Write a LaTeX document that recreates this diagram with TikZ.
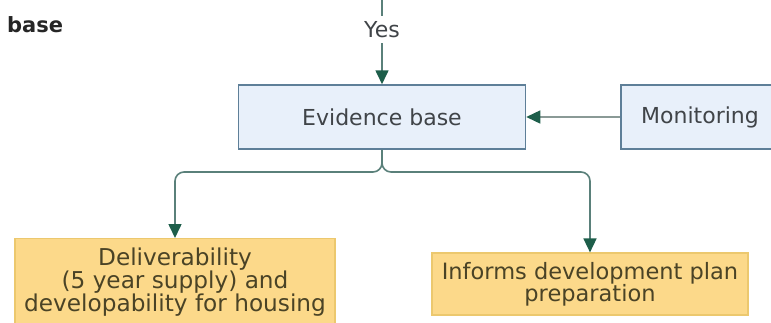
\documentclass[tikz,border=0pt]{standalone}
\usepackage{fontspec}
\setmainfont{DejaVu Sans}
\usetikzlibrary{arrows.meta}
\definecolor{bluefill}{HTML}{E8F0FA}
\definecolor{blueedge}{HTML}{5E7F98}
\definecolor{yelfill}{HTML}{FCD98A}
\definecolor{yeledge}{HTML}{ECC86E}
\definecolor{txtgray}{HTML}{404448}
\definecolor{txtolive}{HTML}{4A4326}
\definecolor{arrowgreen}{HTML}{1D5E4A}
\definecolor{linegreen}{HTML}{5A807A}
\definecolor{linegray}{HTML}{8A9A96}
\tikzset{
  bluebox/.style={draw=blueedge, fill=bluefill, line width=1.5pt, text=txtgray,
    font=\fontsize{22}{22}\selectfont, inner sep=0pt},
  yelbox/.style={draw=yeledge, fill=yelfill, line width=1.2pt, text=txtolive,
    font=\fontsize{22.5}{21.8}\selectfont, align=center, inner sep=0pt},
  conn/.style={draw=linegreen, line width=1.6pt,
    -{Triangle[length=14pt,width=13pt,color=arrowgreen]}},
  monconn/.style={draw=linegray, line width=1.4pt,
    -{Triangle[length=14pt,width=13pt,color=arrowgreen]}},
  lbl/.style={fill=white, text=txtgray, font=\fontsize{22}{22}\selectfont,
    inner xsep=2pt, inner ysep=5pt},
  heading/.style={text=black!85, font=\bfseries\fontsize{21}{21}\selectfont,
    anchor=west, inner sep=0pt}
}
\begin{document}
\begin{tikzpicture}[x=1pt,y=-1pt]
\useasboundingbox (0,0) rectangle (771,322);
\clip (0,0) rectangle (771,322);
\fill[white] (0,0) rectangle (771,322);

\node[heading] (head) at (7,25) {base};

\node[bluebox, minimum width=287pt, minimum height=64pt] (evid) at (382,117) {Evidence base};
\node[bluebox, minimum width=158pt, minimum height=64pt] (mon) at (700,117) {Monitoring};

\node[yelbox, minimum width=320pt, minimum height=87pt, anchor=north,
      font=\fontsize{23.2}{21.6}\selectfont] (left) at (175,238)
  {Deliverability\\(5 year supply) and\\developability for housing};
\node[yelbox, minimum width=316pt, minimum height=62pt] (right) at (590,284)
  {Informs development plan\\preparation};

\coordinate (top) at (382,-25);
\coordinate (hbar) at (0,172);

\draw[conn] (top) -- node[lbl, pos=0.5] (yes) {Yes} (evid.north);
\draw[monconn] (mon.west) -- (evid.east);
\draw[conn, rounded corners=9pt] (evid.south) -- (evid.south |- hbar) -| (left.north);
\draw[conn, rounded corners=9pt] (evid.south) -- (evid.south |- hbar) -| (right.north);
\end{tikzpicture}
\end{document}
